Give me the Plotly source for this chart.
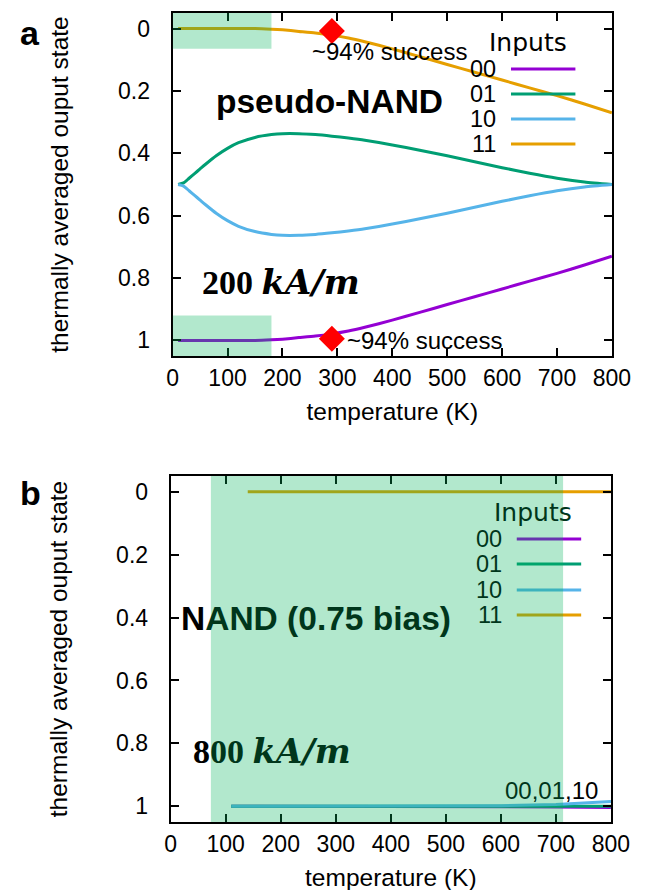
import plotly.graph_objects as go

# ---------------- data ----------------
# Panel a (200 kA/m): thermally averaged output state vs temperature
temp_a = [10, 20, 30, 40, 50, 60, 80, 100, 120, 150, 180, 200, 230, 260, 290,
          320, 350, 400, 450, 500, 550, 600, 650, 700, 750, 800]
a_00 = [1.000, 1.000, 1.000, 1.000, 1.000, 1.000, 1.000, 1.000, 1.000, 1.000, 0.998,
        0.996, 0.991, 0.986, 0.979, 0.970, 0.958, 0.935, 0.910, 0.885, 0.860,
        0.835, 0.810, 0.785, 0.758, 0.730]
a_01 = [0.500, 0.495, 0.480, 0.465, 0.450, 0.435, 0.407, 0.384, 0.366, 0.349, 0.340,
        0.337, 0.337, 0.340, 0.345, 0.351, 0.358, 0.373, 0.390, 0.408, 0.427,
        0.446, 0.464, 0.480, 0.492, 0.500]
a_10 = [0.500, 0.505, 0.520, 0.535, 0.550, 0.565, 0.593, 0.616, 0.634, 0.651, 0.660,
        0.663, 0.663, 0.660, 0.655, 0.649, 0.642, 0.627, 0.610, 0.592, 0.573,
        0.554, 0.536, 0.520, 0.508, 0.500]
a_11 = [0.000, 0.000, 0.000, 0.000, 0.000, 0.000, 0.000, 0.000, 0.000, 0.000, 0.002,
        0.004, 0.009, 0.014, 0.021, 0.030, 0.042, 0.065, 0.090, 0.115, 0.140,
        0.165, 0.190, 0.215, 0.242, 0.270]
success_temp = [290, 290]
success_state = [0.008, 0.995]

# Panel b (800 kA/m)
temp_b = [110, 200, 300, 400, 500, 600, 700, 750, 800]
b_00 = [1.000, 1.000, 1.000, 1.000, 1.000, 1.001, 1.002, 1.003, 1.004]
b_01 = [1.000, 1.000, 1.000, 1.000, 1.000, 1.000, 1.000, 1.000, 1.000]
b_10 = [1.000, 1.000, 1.000, 1.000, 0.999, 0.998, 0.994, 0.990, 0.985]
temp_b11 = [140, 300, 500, 700, 800]
b_11 = [0.000, 0.000, 0.000, 0.000, 0.000]

inputs = ["00", "01", "10", "11"]
colors = ["#9400d3", "#009e73", "#56b4e9", "#e69f00"]

# shaded "working" windows
shade_a_temp = [0, 180]
shade_a_top = [-0.05, 0.065]
shade_a_bot = [0.92, 1.05]
shade_b_temp = [73, 713]

x_ticks = [0, 100, 200, 300, 400, 500, 600, 700, 800]
y_ticks = [0, 0.2, 0.4, 0.6, 0.8, 1]
y_ticktext = ["0", "0.2", "0.4", "0.6", "0.8", "1"]

# ---------------- figure ----------------
W, H = 646, 890
def px(x):
    return x / W
def py(y):
    return 1 - y / H

SANS = "Liberation Sans, Arial, sans-serif"
SERIF = "Liberation Serif, Times New Roman, serif"
DJ = "DejaVu Sans, sans-serif"
SHADE = "rgba(0,180,90,0.30)"
DARK = "rgb(0,54,27)"

fig = go.Figure()

for name, ys, c in zip(inputs, [a_00, a_01, a_10, a_11], colors):
    fig.add_trace(go.Scatter(x=temp_a, y=ys, mode="lines", name=name,
                             line=dict(color=c, width=3, shape="spline", smoothing=0.6),
                             xaxis="x", yaxis="y", showlegend=False))
fig.add_trace(go.Scatter(x=success_temp, y=success_state, mode="markers",
                         marker=dict(symbol="diamond", size=20, color="#ff0000"),
                         xaxis="x", yaxis="y", showlegend=False))

for name, xs, ys, c in zip(inputs, [temp_b, temp_b, temp_b, temp_b11],
                           [b_00, b_01, b_10, b_11], colors):
    fig.add_trace(go.Scatter(x=xs, y=ys, mode="lines", name=name,
                             line=dict(color=c, width=3),
                             xaxis="x2", yaxis="y2", showlegend=False))

axis_common = dict(showline=True, linecolor="black", linewidth=2, mirror="ticks",
                   ticks="inside", ticklen=8, tickwidth=1.5, tickcolor="black",
                   showgrid=False, zeroline=False,
                   tickfont=dict(family=SANS, size=23, color="black"))

xa = dict(axis_common, range=[0, 800], tickvals=x_ticks, ticklabelstandoff=0,
          title=dict(text="temperature (K)", font=dict(family=SANS, size=24.5, color="black"),
                     standoff=13))
ya = dict(axis_common, range=[1.05, -0.05], tickvals=y_ticks, ticktext=y_ticktext,
          ticklabelstandoff=16,
          title=dict(text="thermally averaged ouput state",
                     font=dict(family=SANS, size=24.5, color="black"), standoff=42))

fig.update_layout(
    width=W, height=H, margin=dict(l=0, r=0, t=0, b=0),
    paper_bgcolor="white", plot_bgcolor="white", showlegend=False,
    xaxis=dict(xa, domain=[px(165), px(622)], anchor="y"),
    yaxis=dict(ya, domain=[py(348), py(5)], anchor="x"),
    xaxis2=dict(xa, domain=[px(163), px(621)], anchor="y2"),
    yaxis2=dict(ya, domain=[py(814), py(468)], anchor="x2"),
)

shapes = []
ann = []

def legend(title_xy, rows_y, text_right, line_x0, line_x1, text_color):
    ann.append(dict(x=px(title_xy[0]), y=py(title_xy[1]), xref="paper", yref="paper",
                    text="Inputs", showarrow=False, xanchor="center", yanchor="middle",
                    font=dict(family=DJ, size=25, color=text_color)))
    for name, yy, c in zip(inputs, rows_y, colors):
        ann.append(dict(x=px(text_right), y=py(yy), xref="paper", yref="paper",
                        text=name, showarrow=False, xanchor="right", yanchor="middle",
                        font=dict(family=SANS, size=23.5, color=text_color)))
        shapes.append(dict(type="line", xref="paper", yref="paper",
                           x0=px(line_x0), x1=px(line_x1), y0=py(yy), y1=py(yy),
                           line=dict(color=c, width=3), layer="above"))

# legend panel a
legend((535, 34), [61, 86, 111, 136], 503, 517, 584, "black")
# legend panel b (drawn before the shade so the shade covers it)
legend((540, 504), [531, 556, 582, 607], 510, 523, 590, DARK)

# shades
shapes.append(dict(type="rect", xref="x", yref="y", x0=shade_a_temp[0], x1=shade_a_temp[1],
                   y0=shade_a_top[0], y1=shade_a_top[1], fillcolor=SHADE,
                   line=dict(width=0), layer="above"))
shapes.append(dict(type="rect", xref="x", yref="y", x0=shade_a_temp[0], x1=shade_a_temp[1],
                   y0=shade_a_bot[0], y1=shade_a_bot[1], fillcolor=SHADE,
                   line=dict(width=0), layer="above"))
shapes.append(dict(type="rect", xref="x2", yref="y2 domain", x0=shade_b_temp[0],
                   x1=shade_b_temp[1], y0=0, y1=1, fillcolor=SHADE,
                   line=dict(width=0), layer="above"))

def text(x, y, s, size, family=SANS, xanchor="center", color="black"):
    ann.append(dict(x=px(x), y=py(y), xref="paper", yref="paper", text=s,
                    showarrow=False, xanchor=xanchor, yanchor="middle",
                    font=dict(family=family, size=size, color=color)))

KA = "<span style='font-family:DejaVu Serif'><i>kA/m</i></span>"
text(17, 25, "<b>a</b>", 34)
text(17, 485, "<b>b</b>", 34)
text(328, 94, "<b>pseudo-NAND</b>", 33.5)
text(193, 274, "<b>200 " + KA + "</b>", 34, family=SERIF, xanchor="left")
text(308, 43, "~94% success", 24, xanchor="left")
text(344, 332, "~94% success", 24, xanchor="left")
text(172, 610, "<b>N<span style='color:%s'>AND (0.75 bias)</span></b>" % DARK, 33.5,
     xanchor="left")
text(184, 743, "<b>8<span style='color:%s'>00 %s</span></b>" % (DARK, KA), 34,
     family=SERIF, xanchor="left")
text(610, 782, "<span style='color:%s'>00,01</span>,10" % DARK, 24, xanchor="right")

fig.update_layout(shapes=shapes, annotations=ann)
fig.write_html("out.html")
